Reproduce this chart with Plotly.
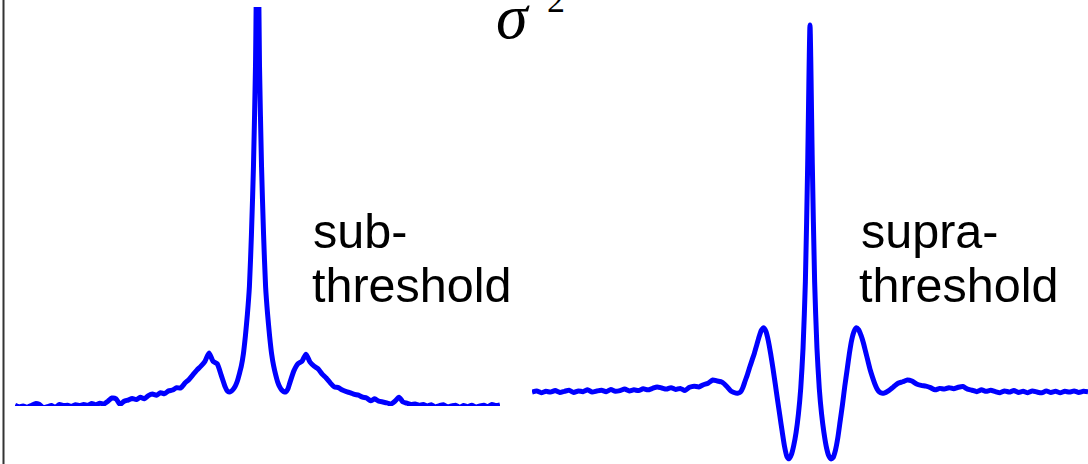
import plotly.graph_objects as go

W, H = 1088, 464

# lags (finer sampling around zero lag where the correlograms change fast)
sub_lag = list(range(-60, -8)) + [i / 2 for i in range(-16, 17)] + list(range(9, 61))
supra_lag = list(range(-60, -16)) + [i / 2 for i in range(-32, 33)] + list(range(17, 61))

# variance correlogram, subthreshold input
sub_vals = [
    # -60 .. -9
    0.002, -0.002, 0.0, -0.003, 0.001, 0.006, 0.004, -0.004, -0.002, 0.001,
    -0.003, 0.004, 0.001, 0.002, -0.001, 0.003, 0.001, 0.004, 0.002, 0.006,
    0.003, 0.007, 0.005, 0.012, 0.02, 0.018, 0.004, 0.012, 0.015, 0.019,
    0.016, 0.022, 0.018, 0.026, 0.03, 0.027, 0.033, 0.031, 0.038, 0.04,
    0.046, 0.045, 0.057, 0.066, 0.078, 0.09, 0.1, 0.112, 0.133, 0.112,
    0.106, 0.078,
    # -8 .. 8 (half steps)
    0.048, 0.038, 0.035, 0.037, 0.042, 0.05, 0.062, 0.08, 0.1, 0.13,
    0.175, 0.23, 0.3, 0.43, 0.6, 0.85, 1.3, 0.85, 0.6, 0.43,
    0.3, 0.23, 0.175, 0.13, 0.1, 0.078, 0.06, 0.048, 0.04, 0.036,
    0.035, 0.042, 0.058,
    # 9 .. 60
    0.088, 0.106, 0.112, 0.13, 0.11, 0.1, 0.093, 0.08, 0.07, 0.058,
    0.048, 0.046, 0.04, 0.036, 0.033, 0.029, 0.027, 0.022, 0.02, 0.013,
    0.018, 0.012, 0.01, 0.008, 0.005, 0.012, 0.022, 0.01, 0.007, 0.004,
    0.005, 0.002, 0.004, 0.0, 0.003, -0.002, 0.001, 0.003, -0.002, 0.0,
    0.002, -0.003, 0.001, -0.002, 0.002, -0.003, 0.0, 0.002, -0.002, 0.004,
    0.001, 0.003,
]

# variance correlogram, suprathreshold input
supra_vals = [
    # -60 .. -17
    0.0, 0.003, -0.002, 0.002, 0.0, 0.004, -0.001, 0.002, 0.005, -0.001,
    0.003, 0.001, 0.006, 0.0, 0.003, 0.005, 0.001, 0.007, 0.002, 0.004,
    0.008, 0.003, 0.006, 0.004, 0.009, 0.006, 0.01, 0.014, 0.011, 0.008,
    0.012, 0.007, 0.01, 0.004, 0.013, 0.016, 0.014, 0.02, 0.024, 0.033,
    0.03, 0.027, 0.016, 0.002,
    # -16 .. 16 (half steps)
    -0.003, -0.003, 0.0, 0.012, 0.03, 0.048, 0.068, 0.087, 0.106, 0.128,
    0.15, 0.168, 0.175, 0.165, 0.14, 0.105, 0.065, 0.022, -0.022, -0.065,
    -0.108, -0.148, -0.175, -0.182, -0.17, -0.145, -0.11, -0.06, 0.01, 0.12,
    0.3, 0.62, 1.0, 0.62, 0.3, 0.12, 0.01, -0.06, -0.11, -0.148,
    -0.172, -0.182, -0.178, -0.158, -0.125, -0.08, -0.035, 0.015, 0.06, 0.105,
    0.142, 0.165, 0.175, 0.17, 0.155, 0.135, 0.11, 0.085, 0.06, 0.04,
    0.022, 0.008, 0.0, -0.003, -0.003,
    # 17 .. 60
    0.004, 0.014, 0.024, 0.028, 0.033, 0.03, 0.022, 0.018, 0.016, 0.012,
    0.006, 0.01, 0.008, 0.012, 0.009, 0.013, 0.015, 0.008, 0.005, 0.001,
    0.006, 0.002, 0.005, 0.001, -0.002, 0.003, 0.0, 0.004, -0.001, 0.002,
    -0.002, 0.003, 0.0, -0.002, 0.003, -0.001, 0.002, -0.002, 0.002, 0.0,
    0.003, -0.001, 0.002, 0.001,
]

LINE = dict(color="#0000ff", width=5, shape="spline", smoothing=0.6)


def fx(p):
    return p / W


def fy(p):
    return 1 - p / H


fig = go.Figure()
fig.add_trace(go.Scatter(x=sub_lag, y=sub_vals, mode="lines", line=LINE,
                         xaxis="x", yaxis="y", hoverinfo="skip"))
fig.add_trace(go.Scatter(x=supra_lag, y=supra_vals, mode="lines", line=LINE,
                         xaxis="x2", yaxis="y2", hoverinfo="skip"))

hidden = dict(visible=False, fixedrange=True, showgrid=False, zeroline=False)

label_font = dict(family="Liberation Sans, Arial, sans-serif", size=48.5, color="black")
sigma_font = dict(family="Liberation Serif, Times New Roman, serif", size=64, color="black")
sup_font = dict(family="Liberation Serif, Times New Roman, serif", size=36, color="black")


def label(text, x, top, font):
    return dict(text=text, x=fx(x), y=fy(top), xref="paper", yref="paper",
                xanchor="left", yanchor="top", showarrow=False, font=font)


fig.update_layout(
    width=W, height=H,
    margin=dict(l=0, r=0, t=0, b=0),
    paper_bgcolor="white", plot_bgcolor="white",
    showlegend=False,
    xaxis=dict(domain=[fx(15), fx(500)], range=[-60, 60], anchor="y", **hidden),
    yaxis=dict(domain=[fy(406), fy(7)], range=[0, 1], anchor="x", **hidden),
    xaxis2=dict(domain=[fx(532), 1.0], range=[-60, 60], anchor="y2", **hidden),
    yaxis2=dict(domain=[0, 1], range=[-0.196, 1.068], anchor="x2", **hidden),
    shapes=[dict(type="line", xref="paper", yref="paper",
                 x0=fx(3.5), x1=fx(3.5), y0=0, y1=1,
                 line=dict(color="#333333", width=2))],
    annotations=[
        label("<i>σ</i>", 494, -21, sigma_font),
        label("2", 545, -22, sup_font),
        label("sub-", 310.5, 202, label_font),
        label("threshold", 310, 256, label_font),
        label("supra-", 858.5, 202, label_font),
        label("threshold", 857, 256, label_font),
    ],
)

fig.write_html("out.html")
